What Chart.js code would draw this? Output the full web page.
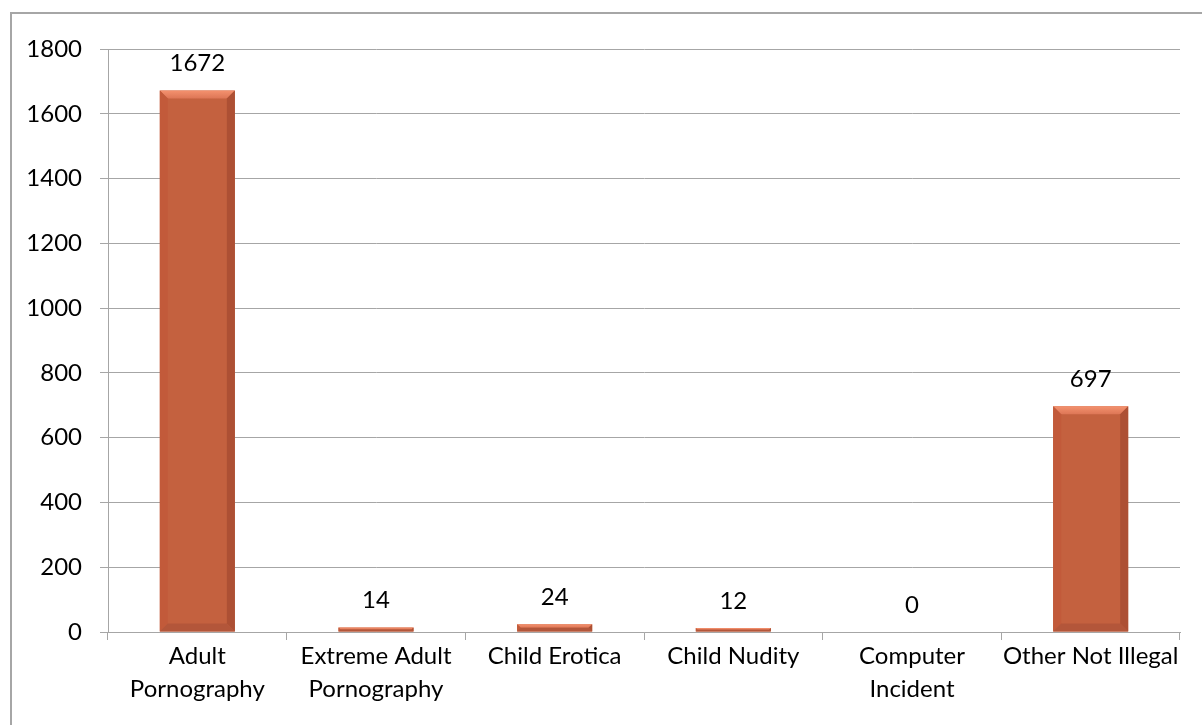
<!DOCTYPE html>
<html>
<head>
<meta charset="utf-8">
<script src="https://cdn.jsdelivr.net/npm/chart.js@4/dist/chart.umd.min.js"></script>
<style>
  html, body { margin: 0; padding: 0; background: #fff; }
  #wrap { position: relative; width: 1202px; height: 725px; overflow: hidden; }
  #frame { position: absolute; left: 10px; top: 12px; width: 1300px; height: 800px;
           border: 2px solid #A6A6A6; box-sizing: border-box; pointer-events: none; }
  canvas { position: absolute; left: 0; top: 0; }
</style>
</head>
<body>
<div id="wrap">
  <canvas id="c" width="1202" height="725"></canvas>
  <div id="frame"></div>
</div>
<script>
// Incident categories and counts
const categories = [
  ['Adult', 'Pornography'],
  ['Extreme Adult', 'Pornography'],
  'Child Erotica',
  'Child Nudity',
  ['Computer', 'Incident'],
  'Other Not Illegal'
];
const counts = [1672, 14, 24, 12, 0, 697];
const yTicks = [0, 200, 400, 600, 800, 1000, 1200, 1400, 1600, 1800];

const FONT = 'Lato, "Open Sans", sans-serif';
const FSIZE = 24;
const GRID = '#A6A6A6';

// Beveled look on each bar plus the value labels above it
const bevelPlugin = {
  id: 'bevel',
  afterDatasetsDraw(chart) {
    const ctx = chart.ctx;
    const meta = chart.getDatasetMeta(0);
    meta.data.forEach((bar, i) => {
      const p = bar.getProps(['x', 'y', 'base', 'width'], true);
      const l = p.x - p.width / 2, r = p.x + p.width / 2;
      const t = Math.min(p.y, p.base), b = Math.max(p.y, p.base);
      const h = b - t;
      if (h > 0.5) {
        const e = Math.min(8, h / 2);
        ctx.save();
        const poly = (pts, col) => {
          ctx.beginPath();
          ctx.moveTo(pts[0][0], pts[0][1]);
          for (let k = 1; k < pts.length; k++) ctx.lineTo(pts[k][0], pts[k][1]);
          ctx.closePath();
          ctx.fillStyle = col;
          ctx.fill();
        };
        // top edge (highlight)
        const gTop = ctx.createLinearGradient(0, t, 0, t + e);
        gTop.addColorStop(0, '#F4926F');
        gTop.addColorStop(1, '#DD7656');
        poly([[l, t], [r, t], [r - e, t + e], [l + e, t + e]], gTop);
        // left edge
        poly([[l, t], [l + e, t + e], [l + e, b - e], [l, b]], '#C25A3A');
        // right edge (shade)
        poly([[r, t], [r, b], [r - e, b - e], [r - e, t + e]], '#AD5034');
        // bottom edge
        poly([[l, b], [l + e, b - e], [r - e, b - e], [r, b]], '#B3563A');
        ctx.restore();
      }
      // value label
      ctx.save();
      ctx.font = FSIZE + 'px ' + FONT;
      ctx.fillStyle = '#000';
      ctx.textAlign = 'center';
      ctx.textBaseline = 'alphabetic';
      ctx.fillText(String(counts[i]), p.x, t - 19);
      ctx.restore();
    });
  }
};

new Chart(document.getElementById('c'), {
  type: 'bar',
  data: {
    labels: categories,
    datasets: [{
      data: counts,
      backgroundColor: '#C4613F',
      borderWidth: 0,
      barPercentage: 0.7,
      categoryPercentage: 0.6
    }]
  },
  options: {
    responsive: false,
    animation: false,
    events: [],
    layout: { padding: { top: 49, right: 22, left: 0, bottom: 0 } },
    plugins: { legend: { display: false }, tooltip: { enabled: false } },
    scales: {
      x: {
        offset: true,
        grid: { display: true, offset: true, drawOnChartArea: false, drawTicks: true,
                tickLength: 8, color: GRID, lineWidth: 1 },
        border: { display: true, color: GRID, width: 1 },
        ticks: { color: '#000', font: { family: FONT, size: FSIZE, lineHeight: 1.375 },
                 padding: 0, maxRotation: 0, autoSkip: false },
        afterFit(s) { s.height = 93; }
      },
      y: {
        min: 0, max: 1800,
        afterBuildTicks(s) { s.ticks = yTicks.map(v => ({ value: v })); },
        grid: { color: GRID, lineWidth: 1, tickLength: 8, drawTicks: true },
        border: { display: true, color: GRID, width: 1 },
        ticks: { color: '#000', font: { family: FONT, size: FSIZE }, padding: 18,
                 callback: v => String(v) },
        afterFit(s) { s.width = 108; }
      }
    }
  },
  plugins: [bevelPlugin]
});
</script>
</body>
</html>
